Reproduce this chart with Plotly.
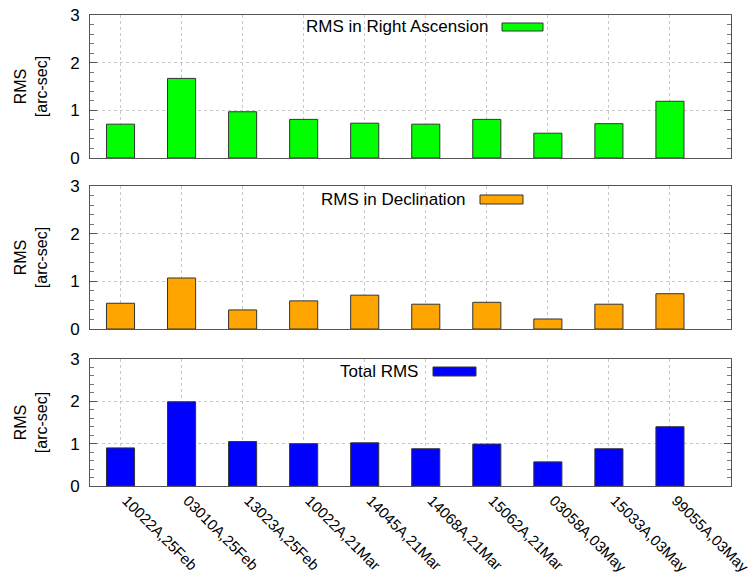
import plotly.graph_objects as go

categories = ["10022A,25Feb", "03010A,25Feb", "13023A,25Feb", "10022A,21Mar", "14045A,21Mar",
              "14068A,21Mar", "15062A,21Mar", "03058A,03May", "15033A,03May", "99055A,03May"]
rms_ra = [0.71, 1.67, 0.97, 0.81, 0.73, 0.71, 0.81, 0.52, 0.72, 1.19]
rms_dec = [0.54, 1.07, 0.40, 0.59, 0.71, 0.52, 0.56, 0.21, 0.52, 0.74]
rms_total = [0.90, 1.99, 1.05, 1.00, 1.02, 0.88, 0.99, 0.57, 0.88, 1.40]
series_names = ["RMS in Right Ascension", "RMS in Declination", "Total RMS"]
series_colors = ["#00ff00", "#ffa500", "#0000ff"]
y_ticks = [0, 1, 2, 3]

W, H = 748, 582
L, R, T, B = 90, 17, 15, 96
PW, PH = W - L - R, H - T - B

def px_x(px):
    return (px - L) / PW

def px_y(py):
    return (H - B - py) / PH

# panel pixel extents (top, bottom)
panels = [(15, 158), (186, 329), (359, 486)]
legend_pos = [(490, 502, 543, 23, 31), (468, 480, 523, 195, 204), (420, 433, 476, 367, 376)]

FONT = "Liberation Sans, Arial, sans-serif"
X_RANGE = [-0.5, 10.0]

fig = go.Figure()
xs = list(range(len(categories)))
for i, (vals, col) in enumerate(zip([rms_ra, rms_dec, rms_total], series_colors)):
    sfx = "" if i == 0 else str(i + 1)
    fig.add_trace(go.Bar(x=xs, y=vals, width=0.46, marker=dict(color=col, line=dict(color="#333333", width=1)),
                         xaxis="x" + sfx, yaxis="y" + sfx, showlegend=False, name=series_names[i]))
    top, bot = panels[i]
    common_x = dict(range=X_RANGE, tickvals=xs, ticktext=categories, showgrid=True,
                    gridcolor="#c8c8c8", griddash="dot", gridwidth=1, showline=True, linecolor="#555555",
                    linewidth=1, mirror=True, ticks="", zeroline=False, domain=[0, 1], automargin=False,
                    anchor="y" + sfx, showticklabels=(i == 2), tickangle=45,
                    ticklabelshift=6, ticklabelstandoff=-1, ticklabeloverflow="allow",
                    tickfont=dict(family=FONT, size=15, color="black"))
    common_y = dict(range=[0, 3], tickvals=y_ticks, showgrid=True, gridcolor="#c8c8c8", griddash="dot",
                    gridwidth=1, showline=True, linecolor="#555555", linewidth=1, mirror="ticks",
                    ticks="inside", ticklen=7, tickcolor="#555555", zeroline=False, automargin=False,
                    minor=dict(dtick=0.2, ticks="inside", ticklen=4, tickcolor="#777777", showgrid=False),
                    domain=[px_y(bot), px_y(top)], anchor="x" + sfx, ticklabelstandoff=6,
                    tickfont=dict(family=FONT, size=17, color="black"),
                    title=dict(text="RMS<br>[arc-sec]", font=dict(family=FONT, size=16, color="black"),
                               standoff=18))
    fig.update_layout(**{"xaxis" + sfx: common_x, "yaxis" + sfx: common_y})
    tx, sx0, sx1, sy0, sy1 = legend_pos[i]
    fig.add_annotation(x=px_x(tx), y=px_y((sy0 + sy1) / 2), xref="paper", yref="paper", xanchor="right",
                       yanchor="middle", text=series_names[i], showarrow=False,
                       font=dict(family=FONT, size=17, color="black"))
    fig.add_shape(type="rect", xref="paper", yref="paper", x0=px_x(sx0), x1=px_x(sx1), y0=px_y(sy1),
                  y1=px_y(sy0), fillcolor=col, line=dict(color="#333333", width=1))

fig.update_layout(width=W, height=H, margin=dict(l=L, r=R, t=T, b=B, autoexpand=False), plot_bgcolor="white",
                  paper_bgcolor="white", font=dict(family=FONT, color="black"), bargap=0.5)
fig.write_html("out.html", config={"displayModeBar": False},
               post_script="document.body.style.margin='0';document.body.style.overflow='hidden';")
